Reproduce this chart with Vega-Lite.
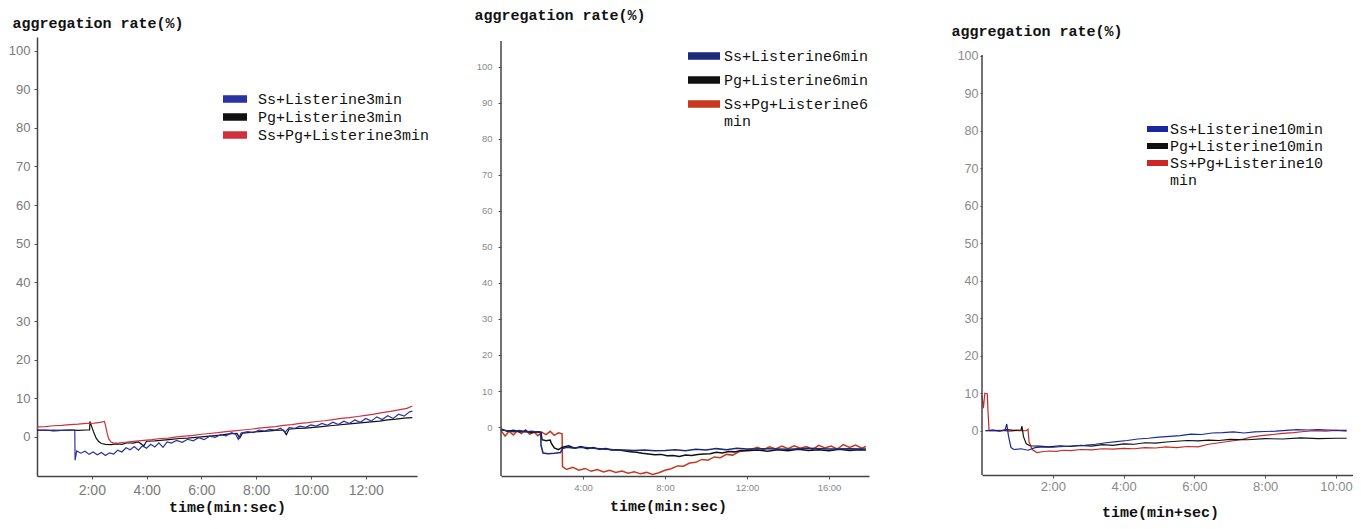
{
  "$schema": "https://vega.github.io/schema/vega-lite/v6.json",
  "background": "white",
  "padding": {"left": 0, "top": 0, "right": 0, "bottom": 8},
  "spacing": 10,
  "config": {"view": {"stroke": null}, "font": "Liberation Sans"},
  "resolve": {"scale": {"color": "independent"}, "legend": {"color": "independent"}},
  "datasets": {
    "p1": [
      {"s":"P","t":0,"v":1.7},{"s":"P","t":0.3,"v":1.8},{"s":"P","t":0.6,"v":1.6},{"s":"P","t":0.9,"v":1.7},{"s":"P","t":1.2,"v":1.8},{"s":"P","t":1.5,"v":1.7},{"s":"P","t":1.8,"v":1.8},{"s":"P","t":1.92,"v":1.8},{"s":"P","t":1.93,"v":4.0},{"s":"P","t":2.0,"v":2.6},{"s":"P","t":2.08,"v":1.0},{"s":"P","t":2.16,"v":-0.3},{"s":"P","t":2.25,"v":-1.2},{"s":"P","t":2.35,"v":-1.7},{"s":"P","t":2.5,"v":-1.9},{"s":"P","t":2.7,"v":-2.0},{"s":"P","t":2.9,"v":-1.8},{"s":"P","t":3.1,"v":-1.9},{"s":"P","t":3.3,"v":-1.5},{"s":"P","t":3.5,"v":-1.6},{"s":"P","t":3.7,"v":-1.3},{"s":"P","t":3.9,"v":-2.3},{"s":"P","t":4.0,"v":-1.1},{"s":"P","t":4.3,"v":-1.0},{"s":"P","t":4.6,"v":-0.8},{"s":"P","t":4.9,"v":-0.6},{"s":"P","t":5.2,"v":-0.4},{"s":"P","t":5.5,"v":-0.3},{"s":"P","t":5.8,"v":-0.1},{"s":"P","t":6.1,"v":0.1},{"s":"P","t":6.4,"v":0.3},{"s":"P","t":6.7,"v":0.5},{"s":"P","t":7.0,"v":0.8},{"s":"P","t":7.3,"v":0.9},{"s":"P","t":7.4,"v":-0.3},{"s":"P","t":7.5,"v":1.0},{"s":"P","t":7.8,"v":1.2},{"s":"P","t":8.1,"v":1.4},{"s":"P","t":8.4,"v":1.5},{"s":"P","t":8.7,"v":1.7},{"s":"P","t":9.0,"v":1.8},{"s":"P","t":9.1,"v":0.6},{"s":"P","t":9.2,"v":2.0},{"s":"P","t":9.5,"v":2.2},{"s":"P","t":9.8,"v":2.3},{"s":"P","t":10.1,"v":2.5},{"s":"P","t":10.4,"v":2.7},{"s":"P","t":10.7,"v":2.9},{"s":"P","t":11.0,"v":3.1},{"s":"P","t":11.3,"v":3.3},{"s":"P","t":11.6,"v":3.5},{"s":"P","t":11.9,"v":3.7},{"s":"P","t":12.2,"v":3.9},{"s":"P","t":12.5,"v":4.1},{"s":"P","t":12.8,"v":4.4},{"s":"P","t":13.1,"v":4.6},{"s":"P","t":13.4,"v":4.9},{"s":"P","t":13.7,"v":5.0},
      {"s":"SP","t":0,"v":2.6},{"s":"SP","t":0.3,"v":2.7},{"s":"SP","t":0.6,"v":2.9},{"s":"SP","t":0.9,"v":3.0},{"s":"SP","t":1.2,"v":3.2},{"s":"SP","t":1.5,"v":3.3},{"s":"SP","t":1.8,"v":3.5},{"s":"SP","t":2.1,"v":3.6},{"s":"SP","t":2.3,"v":3.8},{"s":"SP","t":2.46,"v":4.0},{"s":"SP","t":2.5,"v":3.0},{"s":"SP","t":2.56,"v":1.0},{"s":"SP","t":2.62,"v":-0.5},{"s":"SP","t":2.7,"v":-1.3},{"s":"SP","t":2.8,"v":-1.6},{"s":"SP","t":3.0,"v":-1.5},{"s":"SP","t":3.3,"v":-1.3},{"s":"SP","t":3.6,"v":-1.1},{"s":"SP","t":3.9,"v":-0.9},{"s":"SP","t":4.2,"v":-0.7},{"s":"SP","t":4.5,"v":-0.4},{"s":"SP","t":4.8,"v":-0.3},{"s":"SP","t":5.1,"v":0.0},{"s":"SP","t":5.4,"v":0.2},{"s":"SP","t":5.7,"v":0.4},{"s":"SP","t":6.0,"v":0.7},{"s":"SP","t":6.3,"v":0.9},{"s":"SP","t":6.6,"v":1.1},{"s":"SP","t":6.9,"v":1.4},{"s":"SP","t":7.2,"v":1.6},{"s":"SP","t":7.5,"v":1.8},{"s":"SP","t":7.8,"v":2.0},{"s":"SP","t":8.1,"v":2.3},{"s":"SP","t":8.4,"v":2.5},{"s":"SP","t":8.7,"v":2.7},{"s":"SP","t":9.0,"v":3.0},{"s":"SP","t":9.3,"v":3.2},{"s":"SP","t":9.6,"v":3.5},{"s":"SP","t":9.9,"v":3.7},{"s":"SP","t":10.2,"v":4.0},{"s":"SP","t":10.5,"v":4.2},{"s":"SP","t":10.8,"v":4.5},{"s":"SP","t":11.1,"v":4.8},{"s":"SP","t":11.4,"v":5.0},{"s":"SP","t":11.7,"v":5.3},{"s":"SP","t":12.0,"v":5.6},{"s":"SP","t":12.3,"v":5.9},{"s":"SP","t":12.6,"v":6.3},{"s":"SP","t":12.9,"v":6.6},{"s":"SP","t":13.2,"v":7.0},{"s":"SP","t":13.5,"v":7.4},{"s":"SP","t":13.7,"v":8.0},
      {"s":"S","t":0,"v":1.8},{"s":"S","t":0.3,"v":1.7},{"s":"S","t":0.6,"v":1.8},{"s":"S","t":0.9,"v":1.7},{"s":"S","t":1.2,"v":1.8},{"s":"S","t":1.38,"v":1.8},{"s":"S","t":1.39,"v":-6.0},{"s":"S","t":1.45,"v":-3.6},{"s":"S","t":1.6,"v":-4.2},{"s":"S","t":1.75,"v":-3.7},{"s":"S","t":1.9,"v":-4.5},{"s":"S","t":2.05,"v":-3.9},{"s":"S","t":2.2,"v":-4.6},{"s":"S","t":2.35,"v":-4.0},{"s":"S","t":2.5,"v":-4.8},{"s":"S","t":2.65,"v":-4.1},{"s":"S","t":2.8,"v":-4.4},{"s":"S","t":2.95,"v":-3.4},{"s":"S","t":3.1,"v":-3.9},{"s":"S","t":3.25,"v":-2.8},{"s":"S","t":3.4,"v":-3.3},{"s":"S","t":3.55,"v":-2.5},{"s":"S","t":3.7,"v":-3.4},{"s":"S","t":3.85,"v":-2.3},{"s":"S","t":4.0,"v":-2.9},{"s":"S","t":4.15,"v":-1.9},{"s":"S","t":4.3,"v":-2.6},{"s":"S","t":4.45,"v":-1.5},{"s":"S","t":4.6,"v":-2.7},{"s":"S","t":4.75,"v":-1.3},{"s":"S","t":4.9,"v":-1.6},{"s":"S","t":5.1,"v":-0.9},{"s":"S","t":5.3,"v":-1.4},{"s":"S","t":5.5,"v":-0.6},{"s":"S","t":5.7,"v":-1.0},{"s":"S","t":5.9,"v":-0.2},{"s":"S","t":6.1,"v":-0.7},{"s":"S","t":6.3,"v":0.2},{"s":"S","t":6.5,"v":-0.1},{"s":"S","t":6.7,"v":0.6},{"s":"S","t":6.9,"v":0.3},{"s":"S","t":7.1,"v":1.1},{"s":"S","t":7.25,"v":0.7},{"s":"S","t":7.35,"v":-0.6},{"s":"S","t":7.45,"v":1.0},{"s":"S","t":7.7,"v":1.4},{"s":"S","t":7.9,"v":1.1},{"s":"S","t":8.1,"v":1.8},{"s":"S","t":8.3,"v":1.5},{"s":"S","t":8.5,"v":2.0},{"s":"S","t":8.7,"v":1.8},{"s":"S","t":8.9,"v":2.3},{"s":"S","t":9.05,"v":1.2},{"s":"S","t":9.2,"v":2.4},{"s":"S","t":9.4,"v":2.2},{"s":"S","t":9.6,"v":2.8},{"s":"S","t":9.8,"v":2.5},{"s":"S","t":10.0,"v":3.1},{"s":"S","t":10.2,"v":2.8},{"s":"S","t":10.4,"v":3.5},{"s":"S","t":10.6,"v":3.0},{"s":"S","t":10.8,"v":3.8},{"s":"S","t":11.0,"v":3.2},{"s":"S","t":11.2,"v":4.1},{"s":"S","t":11.4,"v":3.5},{"s":"S","t":11.6,"v":4.4},{"s":"S","t":11.8,"v":3.8},{"s":"S","t":12.0,"v":4.8},{"s":"S","t":12.2,"v":4.1},{"s":"S","t":12.4,"v":5.2},{"s":"S","t":12.6,"v":4.5},{"s":"S","t":12.8,"v":5.5},{"s":"S","t":13.0,"v":4.8},{"s":"S","t":13.2,"v":5.9},{"s":"S","t":13.4,"v":5.4},{"s":"S","t":13.6,"v":6.5},{"s":"S","t":13.7,"v":6.7}
    ],
    "p2": [
      {"s":"SP","t":0,"v":-1.0},{"s":"SP","t":0.2,"v":-2.5},{"s":"SP","t":0.4,"v":-1.2},{"s":"SP","t":0.6,"v":-2.2},{"s":"SP","t":0.8,"v":-1.0},{"s":"SP","t":1.0,"v":-1.8},{"s":"SP","t":1.2,"v":-0.8},{"s":"SP","t":1.4,"v":-2.0},{"s":"SP","t":1.6,"v":-1.3},{"s":"SP","t":1.8,"v":-2.4},{"s":"SP","t":2.0,"v":-1.5},{"s":"SP","t":2.2,"v":-2.1},{"s":"SP","t":2.4,"v":-1.2},{"s":"SP","t":2.6,"v":-2.3},{"s":"SP","t":2.8,"v":-1.6},{"s":"SP","t":2.98,"v":-1.9},{"s":"SP","t":3.0,"v":-11.0},{"s":"SP","t":3.2,"v":-11.8},{"s":"SP","t":3.5,"v":-11.2},{"s":"SP","t":3.8,"v":-12.0},{"s":"SP","t":4.1,"v":-11.5},{"s":"SP","t":4.4,"v":-12.3},{"s":"SP","t":4.7,"v":-11.8},{"s":"SP","t":5.0,"v":-12.5},{"s":"SP","t":5.3,"v":-12.0},{"s":"SP","t":5.6,"v":-12.6},{"s":"SP","t":5.9,"v":-12.2},{"s":"SP","t":6.2,"v":-12.8},{"s":"SP","t":6.5,"v":-12.4},{"s":"SP","t":6.8,"v":-13.0},{"s":"SP","t":7.1,"v":-12.6},{"s":"SP","t":7.4,"v":-13.2},{"s":"SP","t":7.7,"v":-12.7},{"s":"SP","t":8.0,"v":-12.0},{"s":"SP","t":8.3,"v":-11.6},{"s":"SP","t":8.6,"v":-10.8},{"s":"SP","t":8.9,"v":-10.9},{"s":"SP","t":9.2,"v":-10.0},{"s":"SP","t":9.5,"v":-9.8},{"s":"SP","t":9.8,"v":-9.0},{"s":"SP","t":10.1,"v":-9.2},{"s":"SP","t":10.4,"v":-8.3},{"s":"SP","t":10.7,"v":-8.5},{"s":"SP","t":11.0,"v":-7.6},{"s":"SP","t":11.3,"v":-7.8},{"s":"SP","t":11.6,"v":-6.9},{"s":"SP","t":11.9,"v":-6.5},{"s":"SP","t":12.2,"v":-6.2},{"s":"SP","t":12.5,"v":-5.6},{"s":"SP","t":12.8,"v":-6.3},{"s":"SP","t":13.1,"v":-5.5},{"s":"SP","t":13.4,"v":-6.1},{"s":"SP","t":13.7,"v":-5.3},{"s":"SP","t":14.0,"v":-6.0},{"s":"SP","t":14.3,"v":-5.2},{"s":"SP","t":14.6,"v":-5.9},{"s":"SP","t":14.9,"v":-5.4},{"s":"SP","t":15.2,"v":-6.2},{"s":"SP","t":15.5,"v":-5.1},{"s":"SP","t":15.8,"v":-5.8},{"s":"SP","t":16.1,"v":-5.3},{"s":"SP","t":16.4,"v":-6.1},{"s":"SP","t":16.7,"v":-4.9},{"s":"SP","t":17.0,"v":-5.7},{"s":"SP","t":17.3,"v":-5.0},{"s":"SP","t":17.6,"v":-5.9},{"s":"SP","t":17.8,"v":-5.4},
      {"s":"P","t":0,"v":-0.5},{"s":"P","t":0.3,"v":-1.2},{"s":"P","t":0.6,"v":-0.9},{"s":"P","t":0.9,"v":-1.4},{"s":"P","t":1.2,"v":-1.1},{"s":"P","t":1.5,"v":-1.6},{"s":"P","t":1.8,"v":-1.3},{"s":"P","t":1.95,"v":-1.5},{"s":"P","t":2.0,"v":-3.5},{"s":"P","t":2.2,"v":-3.8},{"s":"P","t":2.4,"v":-3.6},{"s":"P","t":2.45,"v":-4.5},{"s":"P","t":2.6,"v":-5.8},{"s":"P","t":2.8,"v":-6.3},{"s":"P","t":3.0,"v":-5.6},{"s":"P","t":3.3,"v":-5.2},{"s":"P","t":3.6,"v":-5.9},{"s":"P","t":3.9,"v":-5.4},{"s":"P","t":4.2,"v":-6.0},{"s":"P","t":4.5,"v":-5.7},{"s":"P","t":4.8,"v":-6.2},{"s":"P","t":5.1,"v":-6.0},{"s":"P","t":5.4,"v":-6.4},{"s":"P","t":5.7,"v":-6.3},{"s":"P","t":6.0,"v":-6.6},{"s":"P","t":6.3,"v":-6.9},{"s":"P","t":6.6,"v":-7.0},{"s":"P","t":6.9,"v":-7.3},{"s":"P","t":7.2,"v":-7.5},{"s":"P","t":7.5,"v":-7.7},{"s":"P","t":7.8,"v":-7.6},{"s":"P","t":8.1,"v":-8.0},{"s":"P","t":8.4,"v":-7.9},{"s":"P","t":8.7,"v":-8.2},{"s":"P","t":9.0,"v":-7.8},{"s":"P","t":9.3,"v":-7.9},{"s":"P","t":9.6,"v":-7.6},{"s":"P","t":9.9,"v":-7.5},{"s":"P","t":10.2,"v":-7.4},{"s":"P","t":10.5,"v":-7.0},{"s":"P","t":10.8,"v":-7.2},{"s":"P","t":11.1,"v":-6.8},{"s":"P","t":11.4,"v":-6.9},{"s":"P","t":11.7,"v":-6.5},{"s":"P","t":12.0,"v":-6.6},{"s":"P","t":12.5,"v":-6.4},{"s":"P","t":13.0,"v":-6.7},{"s":"P","t":13.5,"v":-6.3},{"s":"P","t":14.0,"v":-6.6},{"s":"P","t":14.5,"v":-6.2},{"s":"P","t":15.0,"v":-6.5},{"s":"P","t":15.5,"v":-6.3},{"s":"P","t":16.0,"v":-6.6},{"s":"P","t":16.5,"v":-6.2},{"s":"P","t":17.0,"v":-6.5},{"s":"P","t":17.5,"v":-6.3},{"s":"P","t":17.8,"v":-6.4},
      {"s":"S","t":0,"v":-0.8},{"s":"S","t":0.3,"v":-1.0},{"s":"S","t":0.6,"v":-1.3},{"s":"S","t":0.9,"v":-1.0},{"s":"S","t":1.2,"v":-1.4},{"s":"S","t":1.5,"v":-1.2},{"s":"S","t":1.8,"v":-1.5},{"s":"S","t":1.94,"v":-1.4},{"s":"S","t":1.95,"v":-5.0},{"s":"S","t":2.05,"v":-7.2},{"s":"S","t":2.3,"v":-7.4},{"s":"S","t":2.6,"v":-7.3},{"s":"S","t":2.9,"v":-7.1},{"s":"S","t":3.0,"v":-6.0},{"s":"S","t":3.2,"v":-5.6},{"s":"S","t":3.5,"v":-5.8},{"s":"S","t":4.0,"v":-5.6},{"s":"S","t":4.5,"v":-5.9},{"s":"S","t":5.0,"v":-6.1},{"s":"S","t":5.5,"v":-6.3},{"s":"S","t":6.0,"v":-6.4},{"s":"S","t":6.5,"v":-6.5},{"s":"S","t":7.0,"v":-6.4},{"s":"S","t":7.5,"v":-6.6},{"s":"S","t":8.0,"v":-6.5},{"s":"S","t":8.5,"v":-6.3},{"s":"S","t":9.0,"v":-6.6},{"s":"S","t":9.5,"v":-6.2},{"s":"S","t":10.0,"v":-6.4},{"s":"S","t":10.5,"v":-6.0},{"s":"S","t":11.0,"v":-6.3},{"s":"S","t":11.5,"v":-5.9},{"s":"S","t":12.0,"v":-6.1},{"s":"S","t":13.0,"v":-6.0},{"s":"S","t":14.0,"v":-6.2},{"s":"S","t":15.0,"v":-5.9},{"s":"S","t":16.0,"v":-6.1},{"s":"S","t":17.0,"v":-6.0},{"s":"S","t":17.8,"v":-6.1}
    ],
    "p3": [
      {"s":"SP","t":0,"v":9.5},{"s":"SP","t":0.04,"v":6.0},{"s":"SP","t":0.08,"v":10.0},{"s":"SP","t":0.15,"v":9.8},{"s":"SP","t":0.17,"v":5.0},{"s":"SP","t":0.2,"v":0.0},{"s":"SP","t":0.5,"v":0.1},{"s":"SP","t":0.8,"v":-0.1},{"s":"SP","t":1.0,"v":0.1},{"s":"SP","t":1.25,"v":0.0},{"s":"SP","t":1.3,"v":0.4},{"s":"SP","t":1.33,"v":-3.0},{"s":"SP","t":1.42,"v":-5.0},{"s":"SP","t":1.55,"v":-5.8},{"s":"SP","t":1.7,"v":-5.6},{"s":"SP","t":1.9,"v":-5.4},{"s":"SP","t":2.1,"v":-5.5},{"s":"SP","t":2.3,"v":-5.2},{"s":"SP","t":2.5,"v":-5.3},{"s":"SP","t":2.8,"v":-5.0},{"s":"SP","t":3.1,"v":-5.1},{"s":"SP","t":3.4,"v":-4.8},{"s":"SP","t":3.7,"v":-4.9},{"s":"SP","t":4.0,"v":-4.7},{"s":"SP","t":4.3,"v":-4.8},{"s":"SP","t":4.6,"v":-4.5},{"s":"SP","t":4.9,"v":-4.6},{"s":"SP","t":5.2,"v":-4.3},{"s":"SP","t":5.5,"v":-4.5},{"s":"SP","t":5.8,"v":-4.2},{"s":"SP","t":6.1,"v":-4.3},{"s":"SP","t":6.4,"v":-3.6},{"s":"SP","t":6.7,"v":-3.2},{"s":"SP","t":7.0,"v":-2.8},{"s":"SP","t":7.3,"v":-2.4},{"s":"SP","t":7.6,"v":-1.7},{"s":"SP","t":7.9,"v":-1.3},{"s":"SP","t":8.2,"v":-1.0},{"s":"SP","t":8.5,"v":-0.7},{"s":"SP","t":8.8,"v":-0.5},{"s":"SP","t":9.1,"v":-0.2},{"s":"SP","t":9.4,"v":0.0},{"s":"SP","t":9.7,"v":-0.1},{"s":"SP","t":10.0,"v":0.1},{"s":"SP","t":10.3,"v":-0.1},
      {"s":"P","t":0.1,"v":0.0},{"s":"P","t":0.3,"v":0.2},{"s":"P","t":0.5,"v":0.0},{"s":"P","t":0.7,"v":0.3},{"s":"P","t":0.9,"v":0.1},{"s":"P","t":1.1,"v":0.2},{"s":"P","t":1.13,"v":1.2},{"s":"P","t":1.17,"v":-1.5},{"s":"P","t":1.25,"v":-3.5},{"s":"P","t":1.35,"v":-4.0},{"s":"P","t":1.6,"v":-4.1},{"s":"P","t":1.9,"v":-4.3},{"s":"P","t":2.2,"v":-4.0},{"s":"P","t":2.5,"v":-4.2},{"s":"P","t":2.8,"v":-3.9},{"s":"P","t":3.1,"v":-4.1},{"s":"P","t":3.4,"v":-3.7},{"s":"P","t":3.7,"v":-3.9},{"s":"P","t":4.0,"v":-3.5},{"s":"P","t":4.3,"v":-3.6},{"s":"P","t":4.6,"v":-3.2},{"s":"P","t":4.9,"v":-3.3},{"s":"P","t":5.2,"v":-3.0},{"s":"P","t":5.5,"v":-2.8},{"s":"P","t":5.8,"v":-2.6},{"s":"P","t":6.1,"v":-2.7},{"s":"P","t":6.4,"v":-2.5},{"s":"P","t":6.7,"v":-2.6},{"s":"P","t":7.0,"v":-2.3},{"s":"P","t":7.5,"v":-2.4},{"s":"P","t":8.0,"v":-2.1},{"s":"P","t":8.5,"v":-2.2},{"s":"P","t":9.0,"v":-1.9},{"s":"P","t":9.5,"v":-2.1},{"s":"P","t":10.0,"v":-2.0},{"s":"P","t":10.3,"v":-2.0},
      {"s":"S","t":0.1,"v":0.0},{"s":"S","t":0.3,"v":0.1},{"s":"S","t":0.5,"v":-0.1},{"s":"S","t":0.65,"v":0.2},{"s":"S","t":0.7,"v":1.8},{"s":"S","t":0.75,"v":-1.5},{"s":"S","t":0.82,"v":-4.5},{"s":"S","t":0.9,"v":-5.0},{"s":"S","t":1.1,"v":-4.8},{"s":"S","t":1.3,"v":-5.2},{"s":"S","t":1.5,"v":-4.5},{"s":"S","t":1.7,"v":-4.3},{"s":"S","t":2.0,"v":-4.4},{"s":"S","t":2.3,"v":-4.2},{"s":"S","t":2.6,"v":-4.0},{"s":"S","t":2.9,"v":-3.9},{"s":"S","t":3.2,"v":-3.6},{"s":"S","t":3.5,"v":-3.2},{"s":"S","t":3.8,"v":-2.9},{"s":"S","t":4.1,"v":-2.6},{"s":"S","t":4.4,"v":-2.2},{"s":"S","t":4.7,"v":-2.0},{"s":"S","t":5.0,"v":-1.7},{"s":"S","t":5.3,"v":-1.5},{"s":"S","t":5.6,"v":-1.3},{"s":"S","t":5.9,"v":-0.9},{"s":"S","t":6.2,"v":-1.0},{"s":"S","t":6.5,"v":-0.6},{"s":"S","t":6.8,"v":-0.5},{"s":"S","t":7.1,"v":-0.3},{"s":"S","t":7.4,"v":-0.6},{"s":"S","t":7.7,"v":-0.3},{"s":"S","t":8.0,"v":-0.2},{"s":"S","t":8.3,"v":-0.1},{"s":"S","t":8.6,"v":0.1},{"s":"S","t":8.9,"v":0.3},{"s":"S","t":9.2,"v":0.2},{"s":"S","t":9.5,"v":0.3},{"s":"S","t":9.8,"v":0.2},{"s":"S","t":10.1,"v":0.1},{"s":"S","t":10.3,"v":0.1}
    ]
  },
  "hconcat": [
    {
      "width": 380, "height": 439,
      "data": {"name": "p1"},
      "title": {"text": " ", "anchor": "start", "frame": "group", "dx": -37, "offset": 13.5, "fontSize": 1, "color": "white"},
      "mark": {"type": "line", "strokeWidth": 1.2},
      "encoding": {
        "x": {"field": "t", "type": "quantitative", "scale": {"domain": [0, 13.87], "nice": false, "zero": false},
          "axis": {"values": [2,4,6,8,10,12], "labelExpr": "datum.value + ':00'", "grid": false,
            "title": "time(min:sec)", "titleFont": "Liberation Mono", "titleFontSize": 15, "titleFontWeight": "bold", "titleColor": "#111",
            "titleX": 190, "titleY": 30, "titleAlign": "center", "titleBaseline": "middle",
            "labelFont": "Liberation Sans", "labelFontSize": 14, "labelColor": "#7a7a7a", "labelPadding": 4,
            "tickSize": 3, "tickColor": "#555", "domainColor": "#444", "domainWidth": 1.5}},
        "y": {"field": "v", "type": "quantitative", "scale": {"domain": [-10.1, 103.5], "nice": false, "zero": false},
          "axis": {"values": [0,10,20,30,40,50,60,70,80,90,100], "grid": false,
            "title": "aggregation rate(%)", "titleAngle": 0, "titleAlign": "left", "titleBaseline": "middle", "titleX": -25, "titleY": -15,
            "titleFont": "Liberation Mono", "titleFontSize": 15, "titleFontWeight": "bold", "titleColor": "#111",
            "labelFont": "Liberation Sans", "labelFontSize": 13, "labelColor": "#7a7a7a", "labelPadding": 4,
            "tickSize": 3, "tickColor": "#555", "domainColor": "#444", "domainWidth": 1.5}},
        "color": {"field": "s", "type": "nominal",
          "scale": {"domain": ["S","P","SP"], "range": ["#2832a0","#111111","#d0303c"]},
          "legend": {"orient": "none", "legendX": 186, "legendY": 54.5, "title": null, "padding": 0,
            "symbolType": "M-4,-1H4M-4,-0.6H4M-4,-0.2H4M-4,0.2H4M-4,0.6H4M-4,1H4", "symbolSize": 36, "symbolStrokeWidth": 1.4, "symbolOffset": 4.5,
            "labelOffset": 15.5, "rowPadding": 2, "labelLimit": 400,
            "labelFont": "Liberation Mono", "labelFontSize": 15, "labelColor": "#111",
            "labelExpr": "datum.label == 'S' ? 'Ss+Listerine3min' : datum.label == 'P' ? 'Pg+Listerine3min' : 'Ss+Pg+Listerine3min'"}}
      }
    },
    {
      "width": 368, "height": 439,
      "title": {"text": " ", "anchor": "start", "frame": "group", "dx": -61, "offset": 0, "fontSize": 1, "color": "white"},
      "layer": [
        {
          "data": {"name": "p2"},
          "mark": {"type": "line", "strokeWidth": 1.5},
          "encoding": {
            "x": {"field": "t", "type": "quantitative", "scale": {"domain": [0, 17.95], "nice": false, "zero": false},
              "axis": {"values": [4,8,12,16], "labelExpr": "datum.value + ':00'", "grid": false,
                "title": "time(min:sec)", "titleFont": "Liberation Mono", "titleFontSize": 15, "titleFontWeight": "bold", "titleColor": "#111",
                "titleX": 167, "titleY": 29, "titleAlign": "center", "titleBaseline": "middle",
                "labelFont": "Liberation Sans", "labelFontSize": 9.5, "labelColor": "#8a8a8a", "labelPadding": 3,
                "tickSize": 3, "tickColor": "#555", "domainColor": "#444", "domainWidth": 1.5}},
            "y": {"field": "v", "type": "quantitative", "scale": {"domain": [-13.6, 108.3], "nice": false, "zero": false},
              "axis": {"values": [0,10,20,30,40,50,60,70,80,90,100], "grid": false, "domain": false,
                "title": "aggregation rate(%)", "titleAngle": 0, "titleAlign": "left", "titleBaseline": "middle", "titleX": -27, "titleY": -23,
                "titleFont": "Liberation Mono", "titleFontSize": 15, "titleFontWeight": "bold", "titleColor": "#111",
                "labelFont": "Liberation Sans", "labelFontSize": 9.5, "labelColor": "#8a8a8a", "labelPadding": 6,
                "tickSize": 3, "tickColor": "#555"}},
            "color": {"field": "s", "type": "nominal",
              "scale": {"domain": ["S","P","SP"], "range": ["#1c2a7c","#111111","#c8381e"]},
              "legend": {"orient": "none", "legendX": 187, "legendY": 11.5, "title": null, "padding": 0,
                "symbolType": "M-4,-0.75H4M-4,-0.45H4M-4,-0.15H4M-4,0.15H4M-4,0.45H4M-4,0.75H4", "symbolSize": 64, "symbolStrokeWidth": 1.4, "symbolOffset": 8.5,
                "labelOffset": 12.5, "rowPadding": 8, "labelLimit": 400,
                "labelFont": "Liberation Mono", "labelFontSize": 15, "labelColor": "#111",
                "labelExpr": "datum.label == 'S' ? 'Ss+Listerine6min' : datum.label == 'P' ? 'Pg+Listerine6min' : ['Ss+Pg+Listerine6', 'min']"}}
          }
        },
        {
          "data": {"values": [{}]},
          "mark": {"type": "rule", "color": "#444", "strokeWidth": 1.5},
          "encoding": {
            "x": {"datum": 0, "type": "quantitative"},
            "y": {"datum": -13.6, "type": "quantitative"},
            "y2": {"datum": 107.2}
          }
        }
      ]
    },
    {
      "width": 371, "height": 438,
      "title": {"text": " ", "anchor": "start", "frame": "group", "dx": -103, "offset": 0, "fontSize": 1, "color": "white"},
      "layer": [
        {
          "data": {"name": "p3"},
          "mark": {"type": "line", "strokeWidth": 1.2},
          "encoding": {
            "x": {"field": "t", "type": "quantitative", "scale": {"domain": [0, 10.48], "nice": false, "zero": false},
              "axis": {"values": [2,4,6,8,10], "labelExpr": "datum.value + ':00'", "grid": false,
                "title": "time(min+sec)", "titleFont": "Liberation Mono", "titleFontSize": 15, "titleFontWeight": "bold", "titleColor": "#111",
                "titleX": 178, "titleY": 36, "titleAlign": "center", "titleBaseline": "middle",
                "labelFont": "Liberation Sans", "labelFontSize": 13, "labelColor": "#8a8a8a", "labelPadding": 2,
                "tickSize": 3, "tickColor": "#555", "domainColor": "#444", "domainWidth": 1.5}},
            "y": {"field": "v", "type": "quantitative", "scale": {"domain": [-11.8, 105.0], "nice": false, "zero": false},
              "axis": {"values": [0,10,20,30,40,50,60,70,80,90,100], "grid": false, "domain": false,
                "title": "aggregation rate(%)", "titleAngle": 0, "titleAlign": "left", "titleBaseline": "middle", "titleX": -31, "titleY": -7,
                "titleFont": "Liberation Mono", "titleFontSize": 15, "titleFontWeight": "bold", "titleColor": "#111",
                "labelFont": "Liberation Sans", "labelFontSize": 12.5, "labelColor": "#8a8a8a", "labelPadding": 2,
                "tickSize": 2, "tickColor": "#555"}},
            "color": {"field": "s", "type": "nominal",
              "scale": {"domain": ["S","P","SP"], "range": ["#1a28a0","#111111","#c82828"]},
              "legend": {"orient": "none", "legendX": 165, "legendY": 84.5, "title": null, "padding": 0,
                "symbolType": "M-4,-0.952H4M-4,-0.571H4M-4,-0.19H4M-4,0.19H4M-4,0.571H4M-4,0.952H4", "symbolSize": 27.5625, "symbolStrokeWidth": 1.2, "symbolOffset": 3,
                "labelOffset": 5, "rowPadding": 1, "labelLimit": 400,
                "labelFont": "Liberation Mono", "labelFontSize": 15, "labelColor": "#111",
                "labelExpr": "datum.label == 'S' ? 'Ss+Listerine10min' : datum.label == 'P' ? 'Pg+Listerine10min' : ['Ss+Pg+Listerine10', 'min']"}}
          }
        },
        {
          "data": {"values": [{}]},
          "mark": {"type": "rule", "color": "#444", "strokeWidth": 1.5},
          "encoding": {
            "x": {"datum": 0, "type": "quantitative"},
            "y": {"datum": -11.8, "type": "quantitative"},
            "y2": {"datum": 100.2}
          }
        }
      ]
    }
  ]
}
